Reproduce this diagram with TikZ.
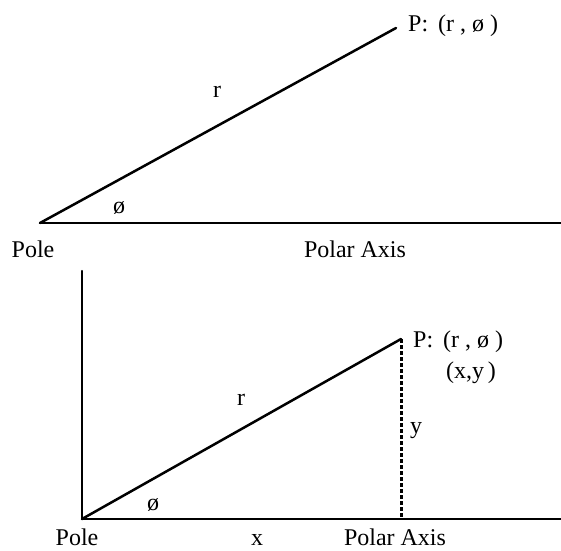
\documentclass[tikz,border=0pt]{standalone}
\usepackage{fontspec}
\setmainfont{Liberation Serif}
\begin{document}
\begin{tikzpicture}[x=1pt,y=1pt,
  lbl/.style={inner sep=0pt,anchor=base,font=\fontsize{24}{28}\selectfont},
  ln/.style={line width=2.5pt,line cap=round},
  drop/.style={line width=3pt,dash pattern=on 3.5pt off 2.5pt}]
\useasboundingbox (0,0) rectangle (561,550);
% top diagram
\coordinate (pole1) at (40,327);
\coordinate (p1) at (396,522);
\coordinate (axis1) at (563,327);
\draw[ln] (pole1) -- (axis1);
\draw[ln] (pole1) -- (p1);
\node[lbl] (polelbl1) at (33,293) {Pole};
\node[lbl] (axislbl1) at (355,293) {Polar Axis};
\node[lbl] (r1) at (217,452) {r};
\node[lbl] (phi1) at (119,337) {ø};
\node[lbl,anchor=base west] (plbl1) at (408,518) {P:\ \,(r ,\ ø\ )};
% bottom diagram
\coordinate (pole2) at (82,31);
\coordinate (vtop) at (82,279);
\coordinate (axis2) at (563,31);
\coordinate (p2) at (401,211);
\coordinate (foot) at (401,31);
\draw[ln] (pole2) -- (vtop);
\draw[ln] (pole2) -- (axis2);
\draw[ln] (pole2) -- (p2);
\draw[drop] (p2) -- (foot);
\node[lbl,anchor=base west] (plbl2) at (413,203) {P:\ \,(r ,\ ø\ )};
\node[lbl] (xy) at (471,172) {(x,y\,)};
\node[lbl] (ylbl) at (416,117) {y};
\node[lbl] (r2) at (241,145) {r};
\node[lbl] (phi2) at (153,40) {ø};
\node[lbl] (polelbl2) at (77,5) {Pole};
\node[lbl] (xlbl) at (257,5) {x};
\node[lbl] (axislbl2) at (395,5) {Polar Axis};
\end{tikzpicture}
\end{document}
